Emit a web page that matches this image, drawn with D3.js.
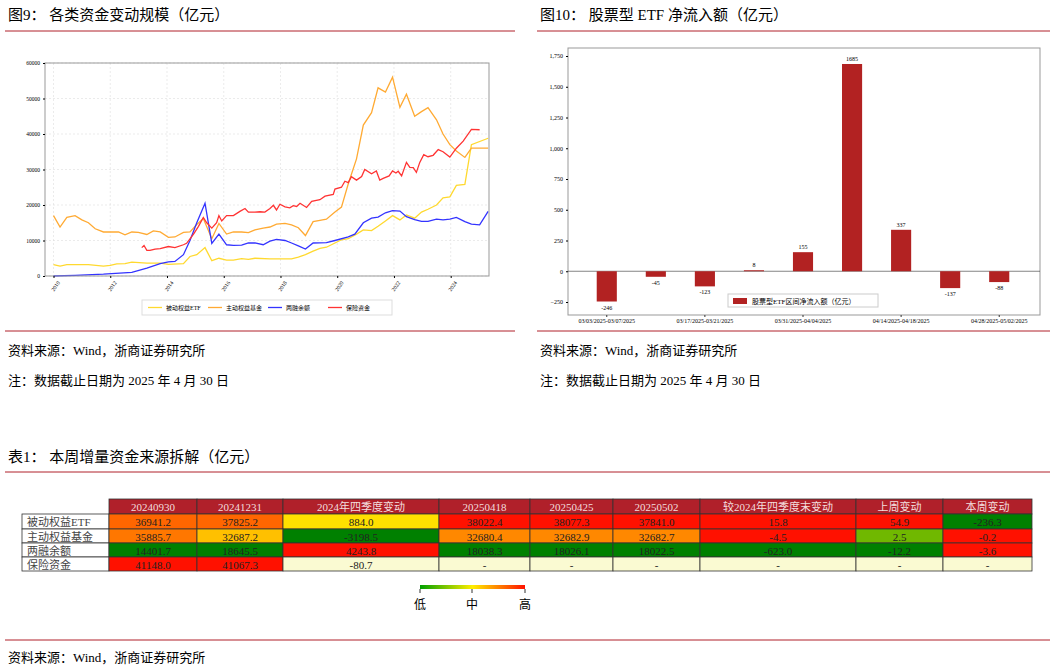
<!DOCTYPE html>
<html><head><meta charset="utf-8">
<script src="https://cdn.jsdelivr.net/npm/d3@7"></script>
<style>body{margin:0;background:#fff}text{font-family:"Liberation Serif","Noto Sans CJK SC",serif}</style>
</head><body><svg id="c" width="1057" height="670"></svg>
<script>
// ---- data: fig 9 (year, 亿元)
var etf = [[2010.00,3200],[2010.23,2800],[2010.47,3200],[2011.23,3200],[2011.76,2800],[2012.00,3000],[2012.23,3400],[2012.52,3500],[2012.76,3900],[2013.29,3600],[2013.76,3600],[2014.05,3300],[2014.58,3500],[2014.81,5500],[2015.05,6000],[2015.34,8000],[2015.58,4300],[2015.83,5000],[2016.10,4500],[2016.34,4500],[2016.63,4900],[2016.87,4700],[2017.10,5000],[2017.63,4800],[2018.39,4800],[2018.63,5300],[2018.88,6000],[2019.15,7000],[2019.39,7800],[2019.62,8100],[2019.92,9300],[2020.15,10200],[2020.39,10500],[2020.68,11800],[2020.92,13000],[2021.21,12800],[2021.44,14000],[2021.70,15500],[2021.95,17000],[2022.21,15800],[2022.44,17200],[2022.73,16300],[2022.97,18000],[2023.20,18800],[2023.50,20000],[2023.73,22000],[2023.97,22300],[2024.20,25500],[2024.50,25800],[2024.73,37000],[2025.32,38800]];
var active = [[2010.00,17000],[2010.23,13800],[2010.47,16500],[2010.76,17000],[2011.00,15800],[2011.23,15000],[2011.47,13300],[2011.76,12400],[2012.29,12400],[2012.52,11600],[2012.76,12400],[2012.99,12300],[2013.29,11700],[2013.52,12700],[2013.76,12400],[2014.05,10900],[2014.28,11000],[2014.58,12300],[2014.81,12400],[2015.05,14500],[2015.28,16200],[2015.58,10500],[2015.83,14800],[2016.10,11800],[2016.34,12400],[2016.63,12400],[2016.87,12200],[2017.10,13000],[2017.39,13500],[2017.63,13800],[2017.86,14600],[2018.16,14800],[2018.39,14400],[2018.63,13600],[2018.88,11400],[2019.15,15300],[2019.39,15700],[2019.62,16000],[2019.92,18000],[2020.15,19400],[2020.39,26000],[2020.68,33000],[2020.92,42500],[2021.21,46000],[2021.44,53000],[2021.70,51800],[2021.95,56000],[2022.21,47500],[2022.44,51200],[2022.73,45000],[2022.97,46300],[2023.20,47400],[2023.50,44000],[2023.73,40000],[2023.97,37000],[2024.20,35200],[2024.50,33400],[2024.73,36000],[2025.32,36000]];
var margin2 = [[2010.00,0],[2010.76,200],[2011.76,500],[2012.76,1000],[2013.29,2200],[2013.76,3500],[2014.05,4000],[2014.28,4100],[2014.58,6000],[2014.81,10000],[2015.05,15000],[2015.34,20500],[2015.58,9200],[2015.83,11800],[2016.10,8800],[2016.34,8600],[2016.63,8700],[2016.87,9300],[2017.10,9300],[2017.39,8800],[2017.63,9800],[2017.86,10300],[2018.16,10000],[2018.39,9300],[2018.63,8500],[2018.88,7600],[2019.15,9300],[2019.62,9400],[2019.92,10000],[2020.39,11000],[2020.62,11800],[2020.92,15000],[2021.21,16300],[2021.44,16600],[2021.70,17800],[2021.95,18400],[2022.21,18300],[2022.44,16700],[2022.73,15900],[2022.97,15400],[2023.20,15400],[2023.50,16000],[2023.73,15800],[2023.97,16000],[2024.20,16500],[2024.50,15300],[2024.73,14600],[2025.02,14400],[2025.32,18200]];
var insur = [[2013.11,8000],[2013.19,8600],[2013.29,7200],[2013.40,7200],[2013.58,7600],[2013.76,7700],[2014.05,8300],[2014.28,8000],[2014.58,8800],[2014.69,9200],[2014.93,11700],[2015.11,14000],[2015.28,16500],[2015.40,15000],[2015.58,13500],[2015.75,15000],[2015.83,17000],[2015.93,15500],[2016.10,17000],[2016.34,17000],[2016.57,18200],[2016.75,19000],[2016.87,18000],[2017.10,18000],[2017.28,18100],[2017.45,18000],[2017.63,19000],[2017.75,19900],[2017.86,18600],[2017.98,20200],[2018.16,19500],[2018.33,19200],[2018.45,19800],[2018.57,19600],[2018.69,20500],[2018.92,19300],[2019.10,21000],[2019.39,21500],[2019.57,22500],[2019.86,23000],[2019.92,24500],[2020.15,25000],[2020.27,26700],[2020.39,26300],[2020.50,28000],[2020.68,27000],[2020.86,28000],[2020.97,30000],[2021.21,28800],[2021.38,29600],[2021.50,27000],[2021.62,27500],[2021.83,28200],[2021.95,29600],[2022.07,29000],[2022.15,29500],[2022.27,28200],[2022.44,32000],[2022.56,30600],[2022.68,30500],[2022.79,29200],[2022.91,32000],[2023.05,34200],[2023.20,33600],[2023.38,34000],[2023.56,35600],[2023.73,35000],[2023.97,33500],[2024.20,36000],[2024.44,38000],[2024.73,41300],[2025.02,41200]];
var seriesNames = ["被动权益ETF","主动权益基金","两融余额","保险资金"];
var seriesColors = ["#ffd92f","#ffaa33","#3333ff","#ff3333"];

// ---- data: fig 10
var weeks = ["03/03/2025-03/07/2025","03/10/2025-03/14/2025","03/17/2025-03/21/2025","03/24/2025-03/28/2025","03/31/2025-04/04/2025","04/07/2025-04/11/2025","04/14/2025-04/18/2025","04/21/2025-04/25/2025","04/28/2025-05/02/2025"];
var flows = [-246,-45,-123,8,155,1685,337,-137,-88];

// ---- data: table 1
var tHeads = ["20240930","20241231","2024年四季度变动","20250418","20250425","20250502","较2024年四季度末变动","上周变动","本周变动"];
var tRows = ["被动权益ETF","主动权益基金","两融余额","保险资金"];
var tVals = [
  ["36941.2","37825.2","884.0","38022.4","38077.3","37841.0","15.8","54.9","-236.3"],
  ["35885.7","32687.2","-3198.5","32680.4","32682.9","32682.7","-4.5","2.5","-0.2"],
  ["14401.7","18645.5","4243.8","18038.3","18026.1","18022.5","-623.0","-12.2","-3.6"],
  ["41148.0","41067.3","-80.7","-","-","-","-","-","-"]];
var tCols = [
  ["#ff6600","#ff6600","#ffe000","#ff1100","#ff1100","#ff1100","#ff1100","#ff1100","#008000"],
  ["#ff7700","#ffc000","#008000","#ff8800","#ff8800","#ff8800","#ff1100","#70b800","#ff1100"],
  ["#008000","#008000","#ff1100","#008000","#008000","#008000","#008000","#008000","#ff1100"],
  ["#ff1100","#ff1100","#fafad2","#fafad2","#fafad2","#fafad2","#fafad2","#fafad2","#fafad2"]];

var svg = d3.select("#c");
var red = "#b0202a";

function heading(x, y, txt) {
  svg.append("text").attr("x", x).attr("y", y).attr("font-size", 15)
    .attr("font-family", "Noto Sans CJK SC").text(txt);
}
function rule(x1, x2, y) {
  svg.append("line").attr("x1", x1).attr("x2", x2).attr("y1", y).attr("y2", y)
    .attr("stroke", red).attr("stroke-width", 1);
}
function note(x, y, txt) {
  svg.append("text").attr("x", x).attr("y", y).attr("font-size", 13)
    .attr("font-family", "Noto Sans CJK SC").text(txt);
}

heading(8, 20, "图9：  各类资金变动规模（亿元）");
rule(5, 515, 31);
heading(540, 20, "图10：  股票型 ETF 净流入额（亿元）");
rule(537, 1050, 31);
rule(5, 515, 331);
rule(537, 1050, 331);
note(8, 355, "资料来源：Wind，浙商证券研究所");
note(8, 385, "注：数据截止日期为 2025 年 4 月 30 日");
note(540, 355, "资料来源：Wind，浙商证券研究所");
note(540, 385, "注：数据截止日期为 2025 年 4 月 30 日");
heading(8, 462, "表1：  本周增量资金来源拆解（亿元）");
rule(5, 1050, 472);
rule(5, 1050, 640);
note(8, 662, "资料来源：Wind，浙商证券研究所");

// ---- left chart
var L = {l: 45, r: 489, t: 63, b: 276};
var x1 = d3.scaleLinear().domain([2009.7, 2025.35]).range([L.l, L.r]);
var y1 = d3.scaleLinear().domain([0, 60000]).range([L.b, L.t]);
var g1 = svg.append("g");
var yt = d3.range(0, 60001, 10000), xt = d3.range(2010, 2025, 2);
g1.selectAll(".gy").data(yt).enter().append("line")
  .attr("x1", L.l).attr("x2", L.r).attr("y1", y1).attr("y2", y1)
  .attr("stroke", "#ddd").attr("stroke-width", 0.6).attr("stroke-dasharray", "2,2");
g1.selectAll(".gx").data(xt).enter().append("line")
  .attr("y1", L.t).attr("y2", L.b).attr("x1", x1).attr("x2", x1)
  .attr("stroke", "#ddd").attr("stroke-width", 0.6).attr("stroke-dasharray", "2,2");
var line1 = d3.line().x(d => x1(d[0])).y(d => y1(d[1]));
[etf, active, margin2, insur].forEach(function(s, i) {
  g1.append("path").attr("d", line1(s)).attr("fill", "none")
    .attr("stroke", seriesColors[i]).attr("stroke-width", 1.3);
});
g1.append("rect").attr("x", L.l).attr("y", L.t).attr("width", L.r - L.l).attr("height", L.b - L.t)
  .attr("fill", "none").attr("stroke", "#999");
g1.append("g").attr("transform", "translate(" + L.l + ",0)")
  .call(d3.axisLeft(y1).tickValues(yt).tickSize(2).tickFormat(d3.format("d")))
  .call(a => a.select(".domain").remove())
  .selectAll("text").attr("font-size", 5.5);
g1.append("g").attr("transform", "translate(0," + L.b + ")")
  .call(d3.axisBottom(x1).tickValues(xt).tickSize(2).tickFormat(d3.format("d")))
  .call(a => a.select(".domain").remove())
  .selectAll("text").attr("font-size", 5.5).attr("text-anchor", "end")
  .attr("transform", "rotate(-55)").attr("dx", "-2").attr("dy", "4");
var lg = g1.append("g");
lg.append("rect").attr("x", 142).attr("y", 300).attr("width", 250).attr("height", 15)
  .attr("fill", "#fff").attr("stroke", "#ddd");
seriesNames.forEach(function(n, i) {
  var lx = 148 + i * 60;
  lg.append("line").attr("x1", lx).attr("x2", lx + 14).attr("y1", 307.5).attr("y2", 307.5)
    .attr("stroke", seriesColors[i]).attr("stroke-width", 1.3);
  lg.append("text").attr("x", lx + 18).attr("y", 310).attr("font-size", 6).text(n);
});

// ---- right chart
var R = {l: 568, r: 1040, t: 48, b: 315};
var x2 = d3.scaleBand().domain(weeks).range([582, 1024]).paddingInner(0.59).paddingOuter(0.3);
var y2 = d3.scaleLinear().domain([-250, 1750]).range([302, 56]);
var g2 = svg.append("g");
g2.append("rect").attr("x", R.l).attr("y", R.t).attr("width", R.r - R.l).attr("height", R.b - R.t)
  .attr("fill", "none").attr("stroke", "#999");
g2.append("g").attr("transform", "translate(" + R.l + ",0)")
  .call(d3.axisLeft(y2).tickValues(d3.range(-250, 1751, 250)).tickSize(2))
  .call(a => a.select(".domain").remove())
  .selectAll("text").attr("font-size", 6);
g2.append("line").attr("x1", R.l).attr("x2", R.r).attr("y1", y2(0)).attr("y2", y2(0))
  .attr("stroke", "#333").attr("stroke-width", 0.6);
g2.selectAll(".bar").data(flows).enter().append("rect")
  .attr("x", (d, i) => x2(weeks[i])).attr("width", x2.bandwidth())
  .attr("y", d => y2(Math.max(0, d))).attr("height", d => Math.abs(y2(d) - y2(0)))
  .attr("fill", "#b22222");
g2.selectAll(".lab").data(flows).enter().append("text")
  .attr("x", (d, i) => x2(weeks[i]) + x2.bandwidth() / 2)
  .attr("y", d => d >= 0 ? y2(d) - 3 : y2(d) + 8)
  .attr("text-anchor", "middle").attr("font-size", 6).text(d => d);
g2.selectAll(".xl").data(weeks.filter((w, i) => i % 2 == 0)).enter().append("text")
  .attr("x", d => x2(d) + x2.bandwidth() / 2).attr("y", 323)
  .attr("text-anchor", "middle").attr("font-size", 6).text(d => d);
g2.selectAll(".xt").data(weeks.filter((w, i) => i % 2 == 0)).enter().append("line")
  .attr("x1", d => x2(d) + x2.bandwidth() / 2).attr("x2", d => x2(d) + x2.bandwidth() / 2)
  .attr("y1", R.b).attr("y2", R.b + 2).attr("stroke", "#333");
g2.append("rect").attr("x", 728).attr("y", 294).attr("width", 150).attr("height", 13)
  .attr("fill", "#fff").attr("stroke", "#ccc");
g2.append("rect").attr("x", 733).attr("y", 298).attr("width", 14).attr("height", 6).attr("fill", "#b22222");
g2.append("text").attr("x", 752).attr("y", 303.5).attr("font-size", 7).text("股票型ETF区间净流入额（亿元）");

// ---- table
var colX = [22, 109, 197, 283, 439, 530, 613, 700, 856, 943, 1032];
var rowY = [499, 514, 529, 543, 557, 571];
var tg = svg.append("g");
tHeads.forEach(function(h, j) {
  tg.append("rect").attr("x", colX[j + 1]).attr("y", rowY[0]).attr("width", colX[j + 2] - colX[j + 1])
    .attr("height", rowY[1] - rowY[0]).attr("fill", red).attr("stroke", "#333").attr("stroke-width", 0.8);
  tg.append("text").attr("x", (colX[j + 1] + colX[j + 2]) / 2).attr("y", rowY[0] + 11.5)
    .attr("text-anchor", "middle").attr("font-size", 11).attr("fill", "#f3dede")
    .attr("font-family", "Noto Sans CJK SC").text(h);
});
tRows.forEach(function(r, i) {
  tg.append("rect").attr("x", colX[0]).attr("y", rowY[i + 1]).attr("width", colX[1] - colX[0])
    .attr("height", rowY[i + 2] - rowY[i + 1]).attr("fill", "#fff").attr("stroke", "#333").attr("stroke-width", 0.8);
  tg.append("text").attr("x", colX[0] + 5).attr("y", rowY[i + 1] + 11.5).attr("font-size", 11)
    .attr("fill", "#444").attr("font-family", "Noto Sans CJK SC").text(r);
  tVals[i].forEach(function(v, j) {
    tg.append("rect").attr("x", colX[j + 1]).attr("y", rowY[i + 1]).attr("width", colX[j + 2] - colX[j + 1])
      .attr("height", rowY[i + 2] - rowY[i + 1]).attr("fill", tCols[i][j]).attr("stroke", "#333").attr("stroke-width", 0.8);
    tg.append("text").attr("x", (colX[j + 1] + colX[j + 2]) / 2).attr("y", rowY[i + 1] + 11.5)
      .attr("text-anchor", "middle").attr("font-size", 11).attr("fill", "#222")
      .attr("font-family", "Noto Sans CJK SC").text(v);
  });
});
// colour scale legend
var grad = svg.append("defs").append("linearGradient").attr("id", "gr");
[["0%", "#00a000"], ["50%", "#ffee00"], ["100%", "#ff1100"]].forEach(s =>
  grad.append("stop").attr("offset", s[0]).attr("stop-color", s[1]));
svg.append("rect").attr("x", 420).attr("y", 585).attr("width", 105).attr("height", 4).attr("fill", "url(#gr)");
[["低", 420], ["中", 472], ["高", 525]].forEach(function(t) {
  svg.append("line").attr("x1", t[1]).attr("x2", t[1]).attr("y1", 589).attr("y2", 593).attr("stroke", "#333");
  svg.append("text").attr("x", t[1]).attr("y", 609).attr("text-anchor", "middle").attr("font-size", 12)
    .attr("font-family", "Noto Sans CJK SC").text(t[0]);
});
</script></body></html>
